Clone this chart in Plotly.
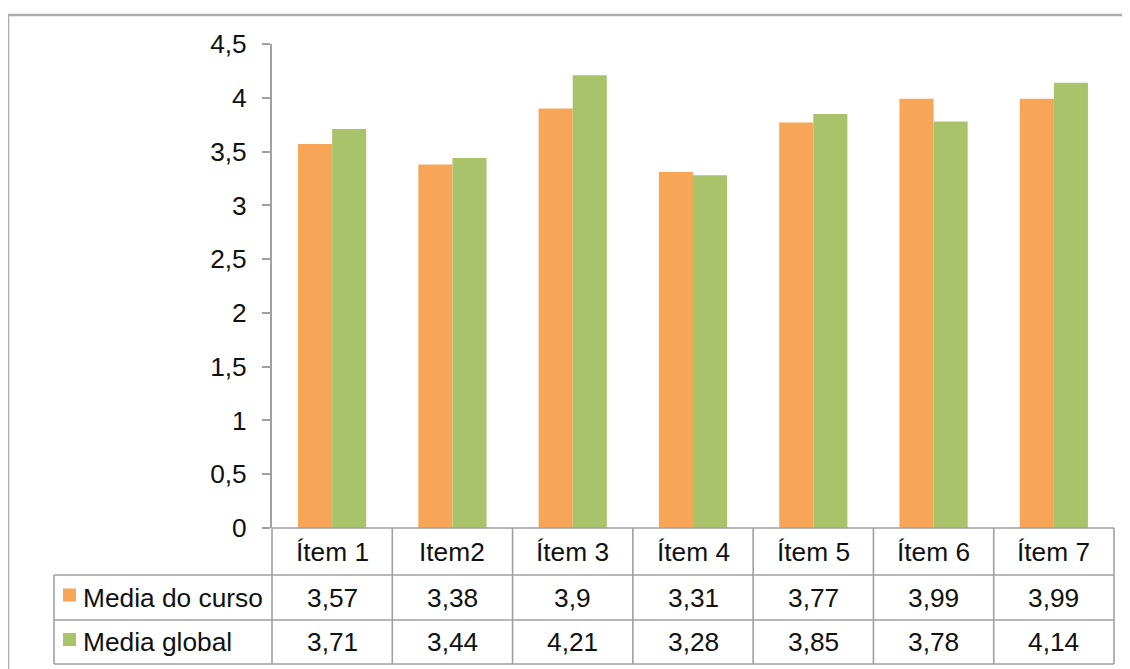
import plotly.graph_objects as go

categories = ["Ítem 1", "Item2", "Ítem 3", "Ítem 4", "Ítem 5", "Ítem 6", "Ítem 7"]
series_names = ["Media do curso", "Media global"]
media_curso = [3.57, 3.38, 3.9, 3.31, 3.77, 3.99, 3.99]
media_global = [3.71, 3.44, 4.21, 3.28, 3.85, 3.78, 4.14]
y_tick_values = [0, 0.5, 1, 1.5, 2, 2.5, 3, 3.5, 4, 4.5]
y_tick_labels = ["0", "0,5", "1", "1,5", "2", "2,5", "3", "3,5", "4", "4,5"]

OFF = 8  # browser body margin
W, H = 1130 - OFF, 669 - OFF
L, R, T, B = 272, 1114, 44, 528
pw, ph = R - L, B - T

ORANGE = "#F7A658"
GREEN = "#A9C36A"
GRID = "#a0a0a0"
FONT = "Liberation Sans, Arial, sans-serif"
FS = 26.3


def px_x(x):
    return (x - L) / pw


def px_y(y):
    return (B - y) / ph


fig = go.Figure()
fig.add_trace(go.Bar(x=categories, y=media_curso, name=series_names[0],
                     marker=dict(color=ORANGE, line=dict(width=0))))
fig.add_trace(go.Bar(x=categories, y=media_global, name=series_names[1],
                     marker=dict(color=GREEN, line=dict(width=0))))

shapes = []
annotations = []

# outer chart border
shapes.append(dict(type="rect", xref="paper", yref="paper",
                   x0=px_x(8), x1=px_x(1200), y0=px_y(15), y1=px_y(720),
                   line=dict(color="#acacac", width=2.5), layer="below"))

row_y = [528, 575, 620, 664]
n = len(categories)
cell_w = 1.0 / n
left_x = px_x(54)
lw = 1.6
# horizontal lines
shapes.append(dict(type="line", xref="paper", yref="paper", x0=0, x1=1,
                   y0=px_y(row_y[0]), y1=px_y(row_y[0]), line=dict(color=GRID, width=lw)))
for ry in row_y[1:]:
    shapes.append(dict(type="line", xref="paper", yref="paper", x0=left_x, x1=1,
                       y0=px_y(ry), y1=px_y(ry), line=dict(color=GRID, width=lw)))
# vertical lines
for i in range(n + 1):
    shapes.append(dict(type="line", xref="paper", yref="paper", x0=i * cell_w, x1=i * cell_w,
                       y0=px_y(row_y[0]), y1=px_y(row_y[3]), line=dict(color=GRID, width=lw)))
shapes.append(dict(type="line", xref="paper", yref="paper", x0=left_x, x1=left_x,
                   y0=px_y(row_y[1]), y1=px_y(row_y[3]), line=dict(color=GRID, width=lw)))

# header labels
for i, c in enumerate(categories):
    annotations.append(dict(x=c, xref="x", yref="paper", y=px_y((row_y[0] + row_y[1]) / 2),
                            text=c, showarrow=False, xanchor="center", yanchor="middle",
                            font=dict(family=FONT, size=FS, color="#111")))


def fmt(v):
    return ("%g" % v).replace(".", ",")


series = [media_curso, media_global]
colors = [ORANGE, GREEN]
for r, (name, vals, col) in enumerate(zip(series_names, series, colors)):
    yc = (row_y[r + 1] + row_y[r + 2]) / 2
    for c, v in zip(categories, vals):
        annotations.append(dict(x=c, xref="x", yref="paper", y=px_y(yc),
                                text=fmt(v), showarrow=False, xanchor="center", yanchor="middle",
                                font=dict(family=FONT, size=FS, color="#111")))
    # legend key square
    shapes.append(dict(type="rect", xref="paper", yref="paper",
                       x0=px_x(63), x1=px_x(76), y0=px_y(yc + 4), y1=px_y(yc - 9),
                       fillcolor=col, line=dict(width=0)))
    annotations.append(dict(x=px_x(81), xref="paper", yref="paper", y=px_y(yc),
                            text=name, showarrow=False, xanchor="left", yanchor="middle",
                            font=dict(family=FONT, size=FS, color="#111")))

fig.update_layout(
    width=W, height=H, autosize=False,
    margin=dict(l=L - OFF, r=W - (R - OFF), t=T - OFF, b=H - (B - OFF), pad=0),
    paper_bgcolor="white", plot_bgcolor="white",
    barmode="group", bargap=0.433, bargroupgap=0,
    showlegend=False,
    shapes=shapes, annotations=annotations,
    font=dict(family=FONT, size=FS, color="#111"),
)
fig.update_xaxes(showticklabels=False, ticks="", showgrid=False, zeroline=False,
                 showline=False, range=[-0.5, n - 0.5])
fig.update_yaxes(range=[0, 4.5], tickvals=y_tick_values, ticktext=y_tick_labels,
                 showgrid=False, zeroline=False, showline=True, linecolor=GRID, linewidth=2,
                 ticks="outside", ticklen=8, tickcolor=GRID, tickwidth=2,
                 ticklabelstandoff=10,
                 tickfont=dict(family=FONT, size=FS, color="#111"))

fig.write_html("out.html")
